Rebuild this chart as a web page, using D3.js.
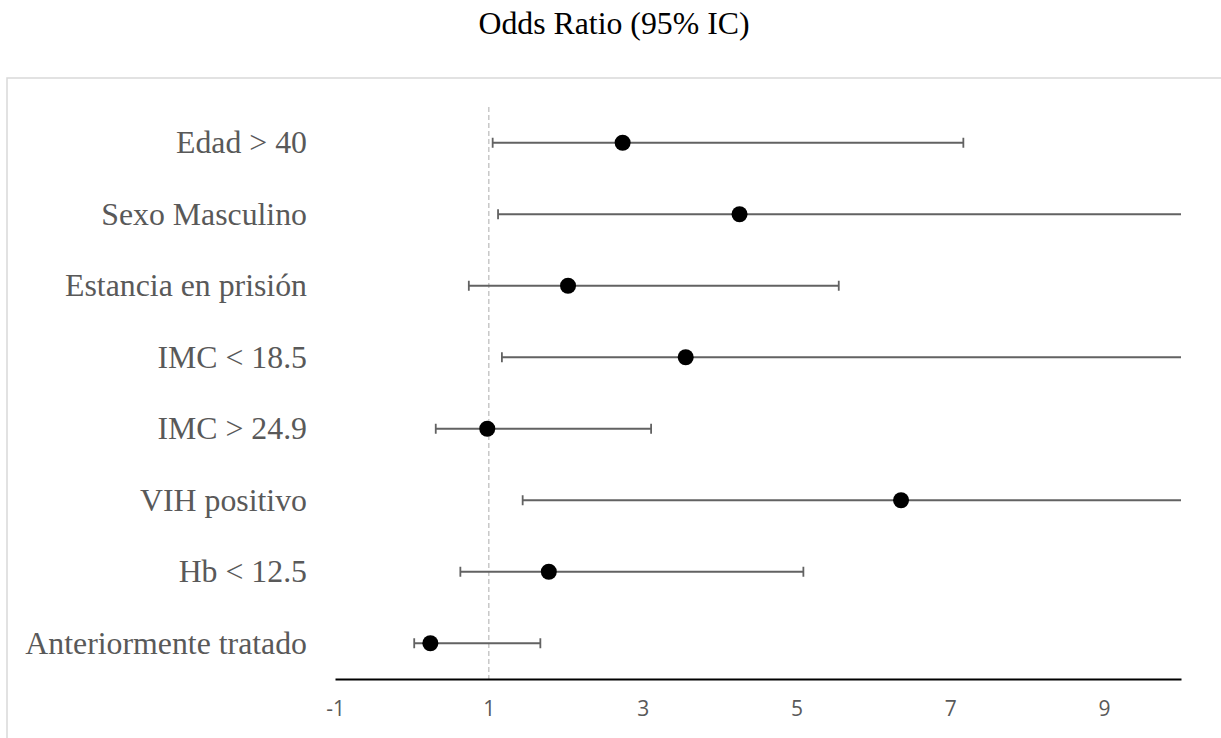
<!DOCTYPE html>
<html>
<head>
  <title>Odds Ratio</title>
  <meta charset="utf-8">
  <script src="https://d3js.org/d3.v7.min.js"></script>
  <style>
    body { margin: 0; background: #fff; }
    .title { font-family: "Liberation Serif", "Times New Roman", serif; font-size: 31.8px; fill: #000; }
    .label { font-family: "Liberation Serif", "Times New Roman", serif; font-size: 31.8px; fill: #595959; }
  </style>
</head>
<body>
  <svg width="1221" height="738"></svg>
  <script>
    // factors, odds ratio and 95% CI
    var factors = ["Edad > 40", "Sexo Masculino", "Estancia en prisión", "IMC < 18.5",
                   "IMC > 24.9", "VIH positivo", "Hb < 12.5", "Anteriormente tratado"];
    var oddsRatio = [2.74, 4.26, 2.03, 3.56, 0.98, 6.36, 1.78, 0.24];
    var lowerCI   = [1.05, 1.12, 0.74, 1.17, 0.31, 1.44, 0.63, 0.03];
    // upper ends past 10 are cut off in the chart, values are guesses
    var upperCI   = [7.17, 16.5, 5.55, 11.2, 3.11, 28.0, 5.09, 1.67];
    var xTicks = [-1, 1, 3, 5, 7, 9];

    var svg = d3.select("svg");

    // outer frame, runs off the right and bottom edges
    svg.append("rect")
      .attr("x", 7).attr("y", 78)
      .attr("width", 1300).attr("height", 800)
      .attr("fill", "none")
      .attr("stroke", "#d9d9d9")
      .attr("stroke-width", 1.5);

    svg.append("text")
      .attr("class", "title")
      .attr("x", 614).attr("y", 34)
      .attr("text-anchor", "middle")
      .text("Odds Ratio (95% IC)");

    var x = d3.scaleLinear().domain([-1, 10]).range([335, 1181]).clamp(true);
    var y = d3.scalePoint().domain(factors).range([107, 679]).padding(0.5);

    var rows = factors.map(function (f, i) {
      return { name: f, or: oddsRatio[i], lo: lowerCI[i], hi: upperCI[i] };
    });

    // reference line at OR = 1
    svg.append("line")
      .attr("x1", x(1)).attr("x2", x(1))
      .attr("y1", 107).attr("y2", 679)
      .attr("stroke", "#bfbfbf")
      .attr("stroke-width", 1.3)
      .attr("stroke-dasharray", "5,3");

    var axis = svg.append("g")
      .attr("transform", "translate(0,679)")
      .call(d3.axisBottom(x).tickValues(xTicks).tickSize(0).tickPadding(22)
        .tickFormat(function (d) { return String(d); }));
    axis.select(".domain").attr("stroke", "#000").attr("stroke-width", 2);
    axis.selectAll("text")
      .attr("font-family", "'Open Sans', sans-serif")
      .attr("font-size", 21)
      .attr("fill", "#595959");

    svg.selectAll(".label")
      .data(rows)
      .enter().append("text")
      .attr("class", "label")
      .attr("x", 307)
      .attr("y", function (d) { return y(d.name) + 10.5; })
      .attr("text-anchor", "end")
      .text(function (d) { return d.name; });

    var g = svg.append("g").attr("stroke", "#626262").attr("stroke-width", 1.8);

    g.selectAll(".ci")
      .data(rows)
      .enter().append("line")
      .attr("x1", function (d) { return x(d.lo); })
      .attr("x2", function (d) { return x(d.hi); })
      .attr("y1", function (d) { return y(d.name); })
      .attr("y2", function (d) { return y(d.name); });

    // caps only where the end is inside the axis
    var caps = [];
    rows.forEach(function (d) {
      [d.lo, d.hi].forEach(function (v) {
        if (v >= -1 && v <= 10) caps.push({ name: d.name, v: v });
      });
    });
    g.selectAll(".cap")
      .data(caps)
      .enter().append("line")
      .attr("x1", function (d) { return x(d.v); })
      .attr("x2", function (d) { return x(d.v); })
      .attr("y1", function (d) { return y(d.name) - 5; })
      .attr("y2", function (d) { return y(d.name) + 5; });

    svg.selectAll(".dot")
      .data(rows)
      .enter().append("circle")
      .attr("cx", function (d) { return x(d.or); })
      .attr("cy", function (d) { return y(d.name); })
      .attr("r", 8)
      .attr("fill", "#000");
  </script>
</body>
</html>
